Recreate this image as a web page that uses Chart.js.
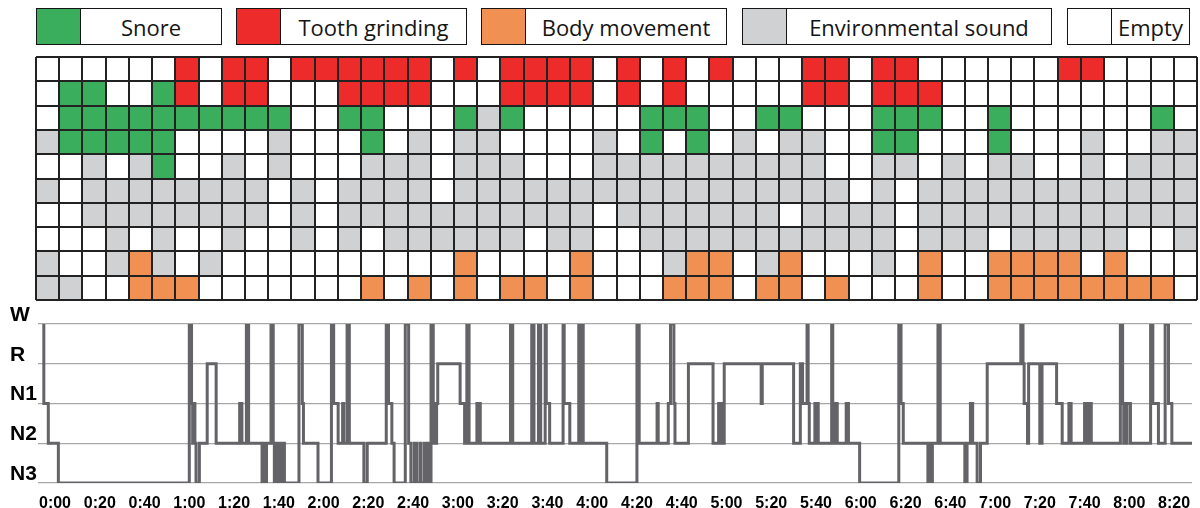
<!DOCTYPE html>
<html>
<head>
<meta charset="utf-8">
<script src="https://cdn.jsdelivr.net/npm/chart.js@4.4.1/dist/chart.umd.min.js"></script>
<style>
  html, body { margin: 0; padding: 0; background: #fff; }
  body { width: 1200px; height: 508px; position: relative; overflow: hidden; font-family: "Open Sans", sans-serif; }
  .item { position: absolute; top: 8px; height: 37px; display: flex; }
  .cor { width: 45px; height: 37px; border: 1.5px solid #151515; box-sizing: border-box; }
  .rotulo { height: 37px; border: 1.5px solid #151515; border-left: none; box-sizing: border-box;
            display: flex; align-items: center; justify-content: center; font-size: 22px; color: #151515; }
  #grade { position: absolute; left: 0; top: 50px; }
  #hipno { position: absolute; left: 0; top: 300px; }
</style>
</head>
<body>
<div id="legenda"></div>
<canvas id="grade" width="1200" height="256"></canvas>
<canvas id="hipno" width="1200" height="208"></canvas>
<script>
// legenda
const legendLabels = ['Snore', 'Tooth grinding', 'Body movement', 'Environmental sound', 'Empty'];
const legendCodes  = ['S', 'T', 'B', 'E', '.'];
const codeColors = { S: '#3aae5c', T: '#ee2b2b', B: '#f09052', E: '#d0d1d3', '.': '#ffffff' };

// grade de eventos: uma string por linha, de cima para baixo, 50 colunas
const row0 = '......T.TT.TTTTTT.T.TTTT.T.T.T...TT.TT......TT....';
const row1 = '.SS..ST.TT...TTTT...TTTT.T.T.....TT.TTT...........';
const row2 = '.SSSSSSSSSS..SS...SES.....SSS..SS...SSS..S......S.';
const row3 = 'ESSSSS....E...S.E.EE....E.S.S.E.EE..SS...S...E..EE';
const row4 = '..E.ES..E.E...EEE.EEE...EEEEEEEEEE..EE.E.EE..E.EEE';
const row5 = 'E.EEEEEEEE.E.EEEE.EEEEEEEEEEEEEEEEE.E.EEEEEEEEEEEE';
const row6 = '..EEEEEEEE.E.EEEEEEEEEEE.EEEEEEE.EEEE.EEEEEEEEEEEE';
const row7 = '...E.E..E..E.E.EEEEEE.EE..EEEEEEEEEEE.EEE.EEEEE..E';
const row8 = 'E..EBE.E..........B....B...EBB.EB...E.B..BBBB.B...';
const row9 = 'EE..BBB.......B.B.B.BB.B...BBB.BB.B...B..BBBBBBBB.';
const rows = [row0, row1, row2, row3, row4, row5, row6, row7, row8, row9];
const slots = Array.from({ length: 50 }, (_, i) => i + 1);

// hipnograma: inicio de cada trecho (minutos) e estagio
const stageLabels = ['N3', 'N2', 'N1', 'R', 'W'];
const xTickLabels = ['0:00','0:20','0:40','1:00','1:20','1:40','2:00','2:20','2:40','3:00','3:20','3:40','4:00',
                     '4:20','4:40','5:00','5:20','5:40','6:00','6:20','6:40','7:00','7:20','7:40','8:00','8:20'];
const hypTimes = [
  -5.5, -5, -3, 1.5, 60, 61, 61.5, 62, 62.5, 63, 64.5, 68, 72, 82.5, 83.5, 85.5, 86.5,
  92.5, 93.5, 94, 94.5, 96.5, 97.5, 98, 99, 99.5, 100.5, 101, 101.5, 102.5,
  109, 110.5, 111, 117.5, 123.5, 124.5, 126.5, 128.5, 129, 130.5, 131.5, 138, 139.5,
  148, 149, 150.5, 151.5, 156.5, 158, 159, 160.5, 161.5, 163, 163.5, 165, 165.5, 166.5, 167,
  168, 169, 169.5, 170, 170.5, 171, 181, 183, 184, 185, 188.5, 189, 189.5, 190,
  203.5, 204.5, 213, 214, 216, 217, 219, 219.5, 221, 227, 227.5, 230, 234, 234.5, 235, 236,
  246.5, 260, 261, 269, 269.5, 274, 275, 276.5, 277, 283, 294, 296.5, 297, 297.5, 298, 299,
  315.5, 316, 330, 333, 334, 336, 336.5, 337, 339.5, 340, 340.5, 341,
  347, 347.5, 348, 348.5, 349.5, 353.5, 354.5, 359.5, 377, 378, 379,
  390, 390.5, 391, 392, 394.5, 395.5, 406.5, 407.5, 409, 410, 412, 413.5, 416.5,
  431.5, 432.5, 433, 434.5, 435, 440, 441, 447.5, 450, 453, 454,
  460, 460.5, 461, 461.5, 462, 463, 476, 477, 477.5, 478, 478.5, 479, 480.5,
  489.5, 490.5, 493, 496, 497.5, 499, 508
];
const hypStages = [
  'W','N1','N2','N3','W','N1','N2','N1','N2','N3','N2','R','N2','N1','N2','W','N2',
  'N3','N2','N3','N2','W','N2','N3','N2','N3','N2','N3','N2','N3',
  'W','N1','N2','N3','W','N1','N2','N1','N2','W','N2','N3','N2',
  'W','N1','N2','N3','W','N2','N3','N2','N3','N2','N3','N2','N3','N2','N3',
  'W','N2','N1','N2','N1','R','N1','N2','W','N2','N1','N2','N1','N2',
  'W','N2','W','N2','W','N2','W','N1','N2','W','N1','N2','W','N2','W','N2',
  'N3','W','N2','N1','N2','N1','W','N1','N2','R','N2','N1','N2','N1','N2','R',
  'N1','R','N2','R','N1','W','N1','N2','N1','N2','N1','N2',
  'W','N1','N2','N1','N2','N1','N2','N3','W','N1','N2',
  'N3','N2','N3','N2','W','N2','N3','N2','N1','N2','N3','N2','R',
  'W','R','N1','N2','R','N2','R','N1','N2','N1','N2',
  'N1','N2','N1','N2','N1','N2','W','N1','N2','N1','N2','N1','N2',
  'W','N1','N2','W','N1','N2','N2'
];

// legenda em html
const legendLeft = [36, 236, 481, 742, 1067];
const legendWidth = [141, 186, 201, 265, 78];
const legenda = document.getElementById('legenda');
legendLabels.forEach((txt, i) => {
  const item = document.createElement('div');
  item.className = 'item';
  item.style.left = legendLeft[i] + 'px';
  item.innerHTML = `<div class="cor" style="background:${codeColors[legendCodes[i]]}"></div>` +
                   `<div class="rotulo" style="width:${legendWidth[i]}px">${txt}</div>`;
  legenda.appendChild(item);
});

// grade (linhas por cima das barras: grid.z = 1)
const linhaGrade = { color: '#222222', lineWidth: 2, drawTicks: false, z: 1 };
new Chart(document.getElementById('grade'), {
  type: 'bar',
  data: {
    labels: slots,
    datasets: rows.slice().reverse().map(r => ({
      data: slots.map(() => 1),
      backgroundColor: r.split('').map(c => codeColors[c]),
      borderWidth: 0,
      barPercentage: 1,
      categoryPercentage: 1
    }))
  },
  options: {
    responsive: false,
    animation: false,
    layout: { padding: { left: 36, right: 3, top: 7, bottom: 6 } },
    plugins: { legend: { display: false }, tooltip: { enabled: false } },
    scales: {
      x: { stacked: true, offset: true, grid: { ...linhaGrade, offset: true },
           border: { display: false }, ticks: { display: false } },
      y: { stacked: true, min: 0, max: 10, grid: linhaGrade,
           border: { display: false }, ticks: { display: false, stepSize: 1 } }
    }
  }
});

// hipnograma
const tickMinutes = xTickLabels.map(s => { const [h, m] = s.split(':'); return +h * 60 + +m; });
const fonteEixo = { family: '"Liberation Sans", Arial, sans-serif', weight: 'bold' };
new Chart(document.getElementById('hipno'), {
  type: 'line',
  data: {
    datasets: [{
      data: hypTimes.map((t, i) => ({ x: t, y: stageLabels.indexOf(hypStages[i]) })),
      stepped: true,
      borderColor: '#646468',
      borderWidth: 3,
      borderJoinStyle: 'miter',
      pointRadius: 0,
      fill: false
    }]
  },
  options: {
    responsive: false,
    animation: false,
    layout: { padding: { left: 10, right: 8, top: 24, bottom: 0 } },
    plugins: { legend: { display: false }, tooltip: { enabled: false } },
    scales: {
      x: {
        type: 'linear', min: -7.6, max: 508,
        afterBuildTicks: s => { s.ticks = tickMinutes.map(v => ({ value: v })); },
        afterFit: s => { s.height = 25; },
        grid: { display: false }, border: { display: false },
        ticks: { autoSkip: false, maxRotation: 0, padding: 3, color: '#000',
                 font: { ...fonteEixo, size: 16 },
                 callback: v => xTickLabels[tickMinutes.indexOf(v)] }
      },
      y: {
        min: 0, max: 4,
        afterBuildTicks: s => { s.ticks = stageLabels.map((_, i) => ({ value: i })); },
        afterFit: s => { s.width = 28; },
        grid: { color: '#a8a8a8', lineWidth: 1.2, drawTicks: false },
        border: { display: false },
        ticks: { crossAlign: 'far', labelOffset: -9, padding: 0, color: '#000',
                 font: { ...fonteEixo, size: 21 },
                 callback: v => stageLabels[v] }
      }
    }
  }
});
</script>
</body>
</html>
